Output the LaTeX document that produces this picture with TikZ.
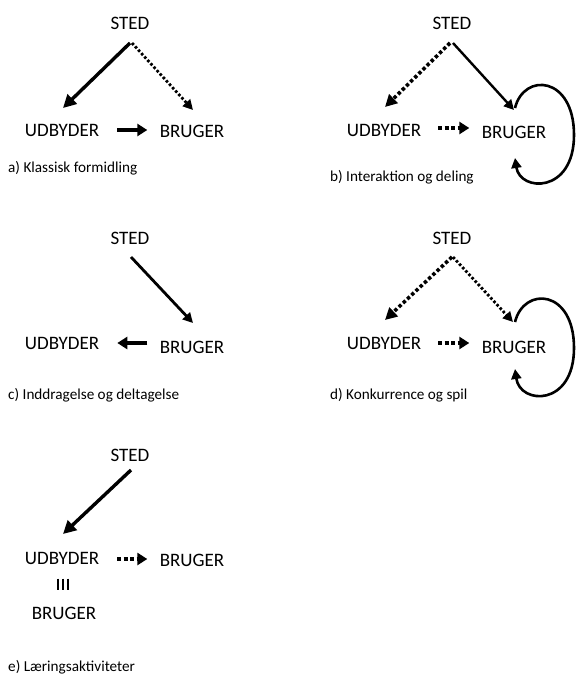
\documentclass[tikz,border=0pt]{standalone}
\usepackage{fontspec}
\setmainfont{Carlito}
\usetikzlibrary{arrows.meta}
\begin{document}
\begin{tikzpicture}[x=1pt,y=-1pt,
  lbl/.style={inner sep=0pt,font=\fontsize{19}{19}\selectfont},
  capt/.style={inner sep=0pt,anchor=west,font=\fontsize{15.2}{16}\selectfont},
  solidarr/.style={line width=3.4pt,-{Triangle[length=13pt,width=13pt]}},
  thinarr/.style={line width=2.4pt,-{Triangle[length=10pt,width=10pt]}},
  dotarr/.style={line width=3.6pt,dash pattern=on 3.4pt off 2.4pt,-{Triangle[length=12pt,width=12pt]}},
  thindot/.style={line width=2.8pt,dash pattern=on 2.6pt off 2pt,-{Triangle[length=10pt,width=10pt]}},
  shortdot/.style={line width=4pt,dash pattern=on 4pt off 2.4pt,-{Triangle[length=10pt,width=12pt]}},
  shortsolid/.style={line width=4pt,-{Triangle[length=10pt,width=12pt]}},
  looparr/.style={line width=2.6pt,-{Triangle[length=10pt,width=10pt]}},
  barline/.style={line width=2.8pt}
]
\useasboundingbox[fill=white] (0,0) rectangle (577,675);

% ---- a) ----
\node[lbl] (sA) at (130,23) {STED};
\node[lbl] (uA) at (62,130) {UDBYDER};
\node[lbl] (bA) at (192,131) {BRUGER};
\node[capt] (cA) at (8,168) {a) Klassisk formidling};
\draw[solidarr] ([yshift=-20pt]sA.center) -- ([xshift=1pt,yshift=22pt]uA.center);
\draw[thindot] ([xshift=2pt,yshift=-20pt]sA.center) -- ([xshift=1pt,yshift=21pt]bA.center);
\draw[shortsolid] ([xshift=18pt]uA.east) -- ([xshift=48pt]uA.east);

% ---- b) ----
\node[lbl] (sB) at (452,23) {STED};
\node[lbl] (uB) at (384,130) {UDBYDER};
\node[lbl] (bB) at (514,132) {BRUGER};
\node[capt] (cB) at (330,177) {b) Interaktion og deling};
\draw[dotarr] ([xshift=-2pt,yshift=-20pt]sB.center) -- ([xshift=1pt,yshift=23pt]uB.center);
\draw[thinarr] ([xshift=1pt,yshift=-20pt]sB.center) -- ([yshift=22pt]bB.center);
\draw[shortdot] ([xshift=17pt,yshift=2pt]uB.east) -- ([xshift=48pt,yshift=2pt]uB.east);
\coordinate (lB1) at ([xshift=1pt,yshift=24pt]bB.center);
\coordinate (lB2) at ([xshift=1pt,yshift=-26pt]bB.center);
\draw[looparr] (lB1) .. controls (524,72) and (574,76) .. (574,135) .. controls (574,194) and (520,192) .. (lB2);

% ---- c) ----
\node[lbl] (sC) at (130,238) {STED};
\node[lbl] (uC) at (62,343) {UDBYDER};
\node[lbl] (bC) at (192,347) {BRUGER};
\node[capt] (cC) at (8,395) {c) Inddragelse og deltagelse};
\draw[thinarr,line width=2.8pt] ([xshift=1pt,yshift=-19pt]sC.center) -- ([xshift=1pt,yshift=24pt]bC.center);
\draw[shortsolid] ([xshift=48pt]uC.east) -- ([xshift=18pt]uC.east);

% ---- d) ----
\node[lbl] (sD) at (452,238) {STED};
\node[lbl] (uD) at (384,343) {UDBYDER};
\node[lbl] (bD) at (514,347) {BRUGER};
\node[capt] (cD) at (330,395) {d) Konkurrence og spil};
\draw[dotarr] ([yshift=-19pt]sD.center) -- ([xshift=1pt,yshift=23pt]uD.center);
\draw[thindot] ([xshift=1pt,yshift=-19pt]sD.center) -- ([xshift=-1pt,yshift=25pt]bD.center);
\draw[shortdot] ([xshift=17pt]uD.east) -- ([xshift=48pt]uD.east);
\coordinate (lD1) at ([xshift=1pt,yshift=25pt]bD.center);
\coordinate (lD2) at ([xshift=1pt,yshift=-22pt]bD.center);
\draw[looparr] (lD1) .. controls (524,286) and (574,289) .. (574,348) .. controls (574,407) and (520,405) .. (lD2);

% ---- e) ----
\node[lbl] (sE) at (130,455) {STED};
\node[lbl] (uE) at (62,558) {UDBYDER};
\node[lbl] (bE) at (192,560) {BRUGER};
\node[lbl] (bE2) at (64,613) {BRUGER};
\node[capt] (cE) at (8,667) {e) Læringsaktiviteter};
\draw[solidarr] ([xshift=1pt,yshift=-15pt]sE.center) -- ([xshift=1pt,yshift=24pt]uE.center);
\draw[shortdot] ([xshift=18pt,yshift=-1pt]uE.east) -- ([xshift=48pt,yshift=-1pt]uE.east);
\coordinate (eq) at (63,584);
\draw[barline] ([xshift=-5pt,yshift=5.5pt]eq) -- ([xshift=-5pt,yshift=-5.5pt]eq);
\draw[barline] ([yshift=5.5pt]eq) -- ([yshift=-5.5pt]eq);
\draw[barline] ([xshift=5pt,yshift=5.5pt]eq) -- ([xshift=5pt,yshift=-5.5pt]eq);
\end{tikzpicture}
\end{document}
